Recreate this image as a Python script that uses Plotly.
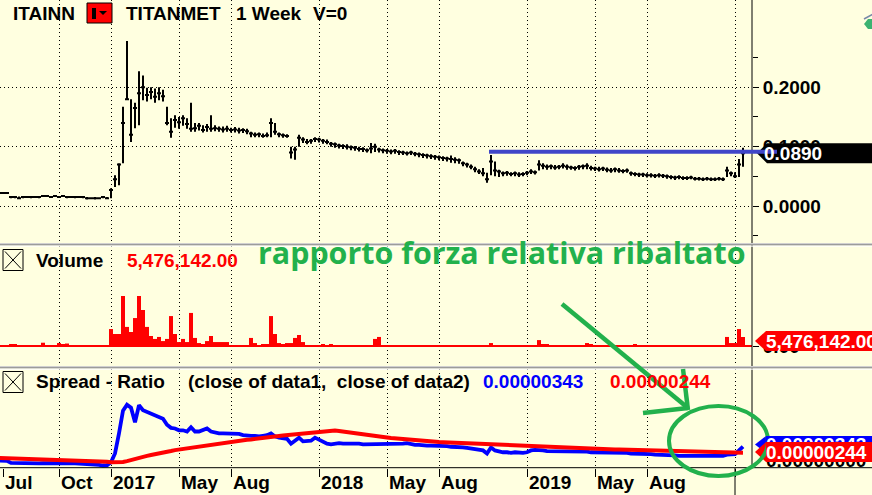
import pandas as pd
import plotly.graph_objects as go

# ---------------- data (weekly bars) ----------------
FIRST_WEEK = "2016-06-24"

PRICE_CLOSE = [
    .022, .022, .022, .015, .015, .013, .015, .015, .015, .015,
    .015, .017, .017, .015, .017, .015, .017, .015, .015, .015,
    .015, .015, .013, .013, .013, .013, .015, .013, .027, .045,
    .070, .140, .180, .120, .165, .190, .200, .187, .192, .184,
    .190, .185, .140, .125, .145, .141, .148, .138, .130, .131,
    .135, .128, .133, .130, .131, .130, .129, .130, .128, .129,
    .127, .128, .126, .122, .120, .121, .118, .119, .140, .125,
    .121, .119, .118, .090, .095, .115, .112, .108, .110, .113,
    .112, .110, .108, .105, .104, .102, .101, .100, .099, .098,
    .096, .096, .094, .097, .100, .095, .094, .093, .092, .093,
    .091, .090, .089, .090, .088, .087, .086, .085, .084, .083,
    .082, .081, .080, .079, .078, .077, .072, .070, .066, .062,
    .058, .055, .045, .075, .060, .058, .055, .056, .054, .055,
    .053, .054, .056, .058, .057, .070, .068, .066, .067, .065,
    .066, .068, .066, .065, .064, .066, .067, .068, .064, .063,
    .062, .063, .061, .060, .062, .060, .059, .060, .055, .054,
    .053, .053, .052, .052, .051, .052, .051, .050, .049, .048,
    .049, .047, .047, .048, .046, .046, .045, .046, .045, .045,
    .046, .045, .060, .055, .050, .070, .089,
]
PRICE_HIGH = [
    .023, .023, .023, .017, .017, .016, .016, .016, .017, .016,
    .016, .018, .018, .017, .018, .017, .018, .016, .016, .017,
    .016, .016, .015, .014, .015, .014, .016, .015, .030, .052,
    .072, .167, .278, .180, .174, .227, .220, .199, .200, .198,
    .200, .196, .167, .148, .153, .150, .153, .148, .174, .140,
    .140, .136, .138, .153, .136, .134, .134, .135, .132, .133,
    .132, .131, .130, .125, .124, .124, .122, .124, .148, .140,
    .124, .122, .121, .100, .100, .120, .116, .113, .113, .116,
    .115, .113, .112, .108, .107, .105, .104, .104, .102, .101,
    .100, .099, .097, .106, .105, .098, .097, .096, .095, .096,
    .094, .093, .092, .093, .091, .090, .089, .088, .087, .086,
    .085, .084, .083, .085, .082, .080, .075, .073, .070, .066,
    .062, .064, .056, .086, .075, .061, .058, .059, .057, .058,
    .057, .057, .059, .062, .060, .077, .072, .070, .070, .069,
    .069, .072, .070, .068, .067, .069, .070, .072, .068, .066,
    .066, .066, .065, .064, .065, .064, .062, .063, .058, .057,
    .056, .056, .055, .055, .054, .055, .054, .053, .052, .051,
    .052, .050, .050, .051, .049, .049, .048, .049, .048, .048,
    .049, .048, .066, .058, .057, .079, .098,
]
PRICE_LOW = [
    .021, .021, .021, .013, .013, .012, .013, .014, .013, .014,
    .013, .015, .015, .014, .015, .014, .015, .013, .014, .013,
    .014, .013, .011, .012, .011, .012, .013, .012, .013, .032,
    .035, .072, .180, .108, .131, .136, .178, .176, .180, .174,
    .178, .176, .136, .115, .132, .130, .135, .130, .125, .125,
    .127, .124, .125, .125, .126, .125, .124, .125, .124, .124,
    .122, .123, .121, .116, .116, .116, .115, .116, .116, .120,
    .116, .115, .115, .080, .078, .100, .106, .104, .105, .108,
    .107, .105, .104, .100, .098, .097, .096, .095, .094, .093,
    .092, .091, .090, .089, .091, .090, .089, .088, .087, .088,
    .086, .086, .085, .086, .084, .082, .081, .080, .079, .078,
    .077, .076, .075, .073, .072, .071, .067, .065, .062, .057,
    .054, .050, .039, .052, .050, .049, .050, .051, .050, .050,
    .049, .050, .052, .054, .053, .060, .062, .061, .062, .061,
    .062, .063, .061, .061, .060, .061, .062, .062, .060, .059,
    .058, .059, .057, .056, .057, .056, .055, .056, .051, .050,
    .049, .049, .048, .048, .047, .048, .047, .046, .045, .044,
    .045, .044, .044, .045, .043, .043, .042, .043, .042, .042,
    .043, .042, .049, .050, .047, .049, .066,
]
VOLUME_M = [
    0.3, 0.3, 0.3, 1.2, 1.2, 0.6, 0.6, 0.6, 0.6, 0.3,
    0.6, 2.0, 0.6, 0.3, 0.3, 1.8, 0.9, 1.5, 0.2, 0.2,
    0.2, 0.6, 0.6, 0.6, 0.6, 0.6, 0.6, 0.6, 10.3, 7.3,
    7.3, 30.4, 11.6, 8.5, 17.0, 30.4, 21.9, 11.6, 6.1, 4.3,
    5.5, 3.0, 4.3, 18.2, 7.3, 2.4, 4.3, 2.4, 20.1, 4.9,
    1.8, 1.2, 3.0, 6.1, 2.4, 2.4, 2.4, 2.4, 0.6, 0.6,
    0.6, 0.6, 0.6, 4.9, 1.8, 0.6, 1.2, 1.2, 18.2, 7.3,
    1.8, 1.2, 1.8, 1.8, 4.9, 6.7, 2.4, 0.6, 0.6, 0.3,
    0.6, 1.2, 0.6, 1.2, 0.6, 0.6, 0.6, 0.6, 0.6, 0.6,
    0.6, 0.6, 0.6, 0.6, 4.3, 5.5, 0.6, 0.6, 0.6, 0.6,
    0.3, 0.6, 0.3, 0.6, 0.6, 0.3, 0.6, 0.3, 0.3, 0.6,
    0.6, 0.6, 0.3, 0.3, 0.6, 0.6, 0.6, 0.6, 0.6, 0.3,
    0.3, 0.3, 0.3, 1.8, 0.6, 0.3, 0.3, 0.3, 0.3, 0.3,
    0.3, 0.3, 0.6, 0.6, 0.6, 3.6, 1.2, 1.2, 0.3, 0.3,
    0.3, 0.3, 0.3, 0.3, 0.3, 0.3, 0.3, 1.8, 1.2, 0.3,
    0.3, 0.3, 0.3, 0.3, 0.3, 0.3, 0.3, 0.3, 0.3, 1.2,
    0.6, 0.3, 0.3, 0.3, 0.3, 0.3, 0.3, 0.3, 0.3, 0.3,
    0.3, 0.3, 0.3, 0.3, 0.3, 0.3, 0.6, 0.6, 0.6, 0.6,
    0.6, 0.6, 5.5, 1.8, 1.8, 10.3, 5.476142,
]
RATIO_E6 = [
    1.15, 1.15, 1.1, 0.75, 0.72, 0.7, 0.7, 0.72, 0.7, 0.7,
    0.68, 0.7, 0.72, 0.7, 0.7, 0.7, 0.68, 0.7, 0.7, 0.68,
    0.66, 0.66, 0.64, 0.62, 0.6, 0.45, 0.33, 0.35, 0.85, 2.3,
    5.6, 9.3, 10.3, 9.8, 7.4, 10.2, 9.4, 9.1, 8.8, 8.5,
    8.3, 8.0, 7.0, 6.5, 6.4, 6.1, 6.1, 5.9, 6.6, 5.9,
    5.9, 6.1, 6.4, 5.9, 5.7, 5.6, 5.6, 5.6, 5.5, 5.5,
    5.5, 5.3, 5.2, 5.2, 5.2, 5.1, 5.2, 5.3, 5.6, 5.1,
    4.9, 4.8, 4.7, 3.9, 4.4, 4.9, 4.3, 4.3, 4.4, 4.9,
    4.6, 4.2, 3.9, 3.8, 3.9, 4.0, 3.9, 3.9, 4.0, 3.9,
    3.9, 3.8, 3.8, 3.8, 3.9, 3.8, 3.8, 3.9, 3.9, 3.9,
    3.8, 3.9, 4.0, 3.8, 3.7, 3.7, 3.6, 3.6, 3.6, 3.6,
    3.6, 3.5, 3.5, 3.4, 3.4, 3.3, 3.3, 3.2, 3.1, 2.9,
    2.8, 2.8, 2.3, 3.3, 2.8, 2.6, 2.5, 2.5, 2.4, 2.5,
    2.4, 2.4, 2.5, 2.8, 2.9, 2.9, 2.8, 2.7, 2.7, 2.7,
    2.6, 2.7, 2.7, 2.6, 2.6, 2.7, 2.6, 2.6, 2.5, 2.5,
    2.5, 2.4, 2.4, 2.5, 2.4, 2.4, 2.4, 2.4, 2.3, 2.3,
    2.2, 2.2, 2.2, 2.2, 2.1, 2.1, 2.1, 2.1, 2.0, 2.0,
    1.9, 1.9, 1.9, 1.8, 1.8, 1.8, 1.8, 1.8, 1.9, 1.8,
    1.8, 1.9, 2.1, 2.1, 2.2, 2.8, 3.43,
]
RATIO_MA_E6 = [
    1.55, 1.53, 1.51, 1.5, 1.49, 1.47, 1.46, 1.45, 1.43, 1.42,
    1.4, 1.38, 1.36, 1.33, 1.31, 1.3, 1.28, 1.25, 1.23, 1.2,
    1.17, 1.15, 1.12, 1.1, 1.07, 1.03, 1.0, 0.95, 0.88, 0.85,
    0.85, 0.9, 1.05, 1.25, 1.45, 1.6, 1.75, 1.9, 2.05, 2.15,
    2.3, 2.4, 2.55, 2.7, 2.85, 2.95, 3.1, 3.2, 3.3, 3.38,
    3.46, 3.55, 3.65, 3.75, 3.85, 3.95, 4.05, 4.15, 4.25, 4.33,
    4.4, 4.47, 4.54, 4.6, 4.7, 4.8, 4.9, 5.0, 5.05, 5.1,
    5.17, 5.23, 5.3, 5.35, 5.42, 5.5, 5.55, 5.6, 5.67, 5.73,
    5.8, 5.9, 6.0, 6.05, 6.05, 6.0, 5.9, 5.8, 5.7, 5.6,
    5.5, 5.38, 5.28, 5.2, 5.12, 5.06, 5.0, 4.93, 4.85, 4.78,
    4.7, 4.63, 4.56, 4.5, 4.44, 4.38, 4.33, 4.28, 4.24, 4.2,
    4.17, 4.13, 4.1, 4.07, 4.04, 4.0, 3.97, 3.94, 3.92, 3.89,
    3.86, 3.84, 3.82, 3.8, 3.77, 3.74, 3.71, 3.68, 3.65, 3.62,
    3.59, 3.56, 3.53, 3.5, 3.46, 3.42, 3.38, 3.34, 3.3, 3.26,
    3.22, 3.2, 3.18, 3.16, 3.15, 3.13, 3.12, 3.11, 3.1, 3.09,
    3.07, 3.05, 3.02, 3.0, 2.97, 2.95, 2.93, 2.91, 2.89, 2.87,
    2.84, 2.81, 2.78, 2.76, 2.74, 2.72, 2.7, 2.68, 2.66, 2.63,
    2.61, 2.59, 2.57, 2.55, 2.53, 2.51, 2.49, 2.47, 2.46, 2.45,
    2.44, 2.43, 2.42, 2.41, 2.41, 2.42, 2.44,
]

TICK_DATES = ["2016-07-01", "2016-10-07", "2017-01-06", "2017-05-05", "2017-08-04",
              "2018-01-05", "2018-05-04", "2018-08-03", "2019-01-04", "2019-05-03",
              "2019-08-02", "2020-01-03"]
TICK_LABELS = ["Jul", "Oct", "2017", "May", "Aug", "2018", "May", "Aug", "2019",
               "May", "Aug", ""]
PRICE_TICKS = [0.0, 0.1, 0.2]
PRICE_TICK_LABELS = ["0.0000", "0.1000", "0.2000"]
PRICE_MINOR_TICKS = [-0.05, 0.05, 0.15, 0.25]
TREND_LEVEL = 0.0915

X_RANGE = ["2016-06-25 18:00", "2020-02-01 18:00"]
PRICE_RANGE = [-0.0623, 0.347]
VOL_RANGE = [-12.16e6, 60.8e6]
RATIO_RANGE = [-0.08e-6, 16.15e-6]

# ---------------- geometry helpers ----------------
W, H = 872, 495
PW, PH = 752, 468            # plot area (left/top margin 0)
BG = "#FFFFE0"
GREEN = "#22B14C"
FONT = "Liberation Sans, Arial, sans-serif"


def X(px):
    return px / PW


def Y(py):
    return (PH - py) / PH


def dom(top, bot):
    return [Y(bot), Y(top)]


def val_py(v, top, bot, rng):
    return top + (rng[1] - v) / (rng[1] - rng[0]) * (bot - top)


def fnt(color="black", size=19, family=FONT):
    return dict(family=family, size=size, color=color, weight="bold")


dates = pd.date_range(FIRST_WEEK, periods=len(PRICE_CLOSE), freq="7D")

fig = go.Figure()
fig.add_trace(go.Ohlc(
    x=dates, open=PRICE_CLOSE, high=PRICE_HIGH, low=PRICE_LOW, close=PRICE_CLOSE,
    xaxis="x", yaxis="y", line=dict(width=2), tickwidth=0.5,
    increasing=dict(line=dict(color="black")), decreasing=dict(line=dict(color="black")),
    hoverinfo="skip", showlegend=False))
fig.add_trace(go.Bar(
    x=dates, y=[v * 1e6 for v in VOLUME_M], xaxis="x2", yaxis="y2",
    marker=dict(color="#FF0000", line=dict(width=0)), width=7 * 24 * 3600 * 1000,
    hoverinfo="skip", showlegend=False))
fig.add_trace(go.Scatter(
    x=dates, y=[v * 1e-6 for v in RATIO_E6], xaxis="x3", yaxis="y3", mode="lines",
    line=dict(color="#0000FF", width=3.8), hoverinfo="skip", showlegend=False))
fig.add_trace(go.Scatter(
    x=dates, y=[v * 1e-6 for v in RATIO_MA_E6], xaxis="x3", yaxis="y3", mode="lines",
    line=dict(color="#FF0000", width=4), hoverinfo="skip", showlegend=False))

GRID = dict(showgrid=True, gridcolor="#000000", gridwidth=1, griddash="1px,3px")
grid_dates = TICK_DATES[1:]
xcommon = dict(type="date", range=X_RANGE, tickmode="array", tickvals=grid_dates,
               showticklabels=False, showline=False, zeroline=False, **GRID)

fig.update_layout(
    width=W, height=H, template="none",
    margin=dict(l=0, r=W - PW, t=0, b=H - PH, pad=0),
    paper_bgcolor=BG, plot_bgcolor=BG, showlegend=False, hovermode=False,
    xaxis=dict(anchor="y", domain=[0, 1], ticks="", rangeslider=dict(visible=False), **xcommon),
    xaxis2=dict(anchor="y2", domain=[0, 1], matches="x", ticks="", **xcommon),
    xaxis3=dict(anchor="y3", domain=[0, 1], matches="x", ticks="outside", ticklen=8,
                tickcolor="black", tickwidth=1,
                minor=dict(tickvals=TICK_DATES[:1], ticks="outside", ticklen=8,
                           tickcolor="black", showgrid=False),
                **xcommon),
    yaxis=dict(domain=dom(0, 243), range=PRICE_RANGE, side="right", anchor="x",
               tickmode="array", tickvals=PRICE_TICKS, ticktext=PRICE_TICK_LABELS,
               ticks="outside", ticklen=6, tickcolor="black", tickfont=fnt(),
               minor=dict(tickvals=PRICE_MINOR_TICKS, ticks="outside", ticklen=5,
                          tickcolor="black", showgrid=False),
               showline=False, zeroline=False, automargin=False, **GRID),
    yaxis2=dict(domain=dom(246, 366), range=VOL_RANGE, side="right", anchor="x2",
                tickmode="array", tickvals=[0], ticktext=["0.00"], ticks="outside",
                ticklen=6, tickcolor="black", tickfont=fnt(), showgrid=False,
                zeroline=True, zerolinecolor="#FF0000", zerolinewidth=1.5,
                showline=False, automargin=False),
    yaxis3=dict(domain=dom(369, 468), range=RATIO_RANGE, side="right", anchor="x3",
                showticklabels=False, ticks="", showgrid=False, zeroline=False,
                showline=False, automargin=False),
)

# ---------------- shapes ----------------
shapes = []


def sline(x0, y0, x1, y1, color="black", width=1):
    shapes.append(dict(type="line", xref="paper", yref="paper", x0=X(x0), y0=Y(y0),
                       x1=X(x1), y1=Y(y1), line=dict(color=color, width=width),
                       layer="above"))


def srect(x0, y0, x1, y1, fill=None, color="black", width=1):
    shapes.append(dict(type="rect", xref="paper", yref="paper", x0=X(x0), y0=Y(y0),
                       x1=X(x1), y1=Y(y1), fillcolor=fill or "rgba(0,0,0,0)",
                       line=dict(color=color, width=width), layer="above"))


def spath(pts, fill, color=None, width=0):
    d = "M " + " L ".join(f"{X(a):.5f},{Y(b):.5f}" for a, b in pts) + " Z"
    shapes.append(dict(type="path", xref="paper", yref="paper", path=d, fillcolor=fill,
                       line=dict(color=color or fill, width=width), layer="above"))


# right spine and bottom axis line
sline(PW, 0, PW, PH, "black", 1)
sline(0, 467.7, W, 467.7, "black", 1)
# panel separators
for y0 in (243, 366):
    sline(0, y0 + 0.5, W, y0 + 0.5, "#D0D0D0", 1)
    sline(0, y0 + 1.8, W, y0 + 1.8, "#9C9C9C", 1.6)
    sline(0, y0 + 3.2, W, y0 + 3.2, "#FFFFFF", 1)

# header widgets
srect(87, 3, 112, 23, fill="#FF0000")
srect(92, 8, 96, 19, fill="black", width=0)
spath([(99, 11), (107, 11), (103, 15)], "black")
for top in (249.5, 371.5):
    srect(3, top, 23, top + 21, fill=None)
    sline(5, top + 2, 21, top + 19)
    sline(21, top + 2, 5, top + 19)

# price last-value label box
yp = val_py(PRICE_CLOSE[-1], 0, 243, PRICE_RANGE)
spath([(757, yp), (767, yp - 10), (W + 2, yp - 10), (W + 2, yp + 10), (767, yp + 10)], "black")
# hand-drawn horizontal level line
shapes.append(dict(type="line", xref="paper", yref="y", x0=X(489), x1=X(777),
                   y0=TREND_LEVEL, y1=TREND_LEVEL, line=dict(color="#4046C8", width=4),
                   layer="above"))
# volume label box
spath([(755, 341), (766, 331), (W + 2, 331), (W + 2, 351), (766, 351)], "#FF0000")
# ratio label pointers
spath([(755, 444.5), (766, 436), (770, 436), (770, 453), (766, 453)], "#0000FF")
spath([(755, 452), (766, 442), (770, 442), (770, 462), (766, 462)], "#FF0000")
# long tick for the unlabeled last month tick
shapes.append(dict(type="line", xref="x3", yref="paper", x0=TICK_DATES[-1], x1=TICK_DATES[-1],
                   y0=Y(468), y1=Y(495), line=dict(color="black", width=1), layer="above"))
# green hand annotations
shapes.append(dict(type="circle", xref="paper", yref="paper", x0=X(669), x1=X(768),
                   y0=Y(476), y1=Y(406), line=dict(color=GREEN, width=4), layer="above"))
sline(562, 304, 688, 408, GREEN, 4.5)
sline(683, 369, 688, 410, GREEN, 4.5)
sline(643, 413, 688, 408, GREEN, 4.5)
# small icon top-right
spath([(864, 24), (868, 19), (873, 19), (873, 29), (868, 29)], "#3CB371")
sline(864, 19, 873, 14, "#7888A8", 1.5)

fig.update_layout(shapes=shapes)

# ---------------- texts ----------------
ann = []


def txt(px, py, s, color="black", size=19, family=FONT, **kw):
    d = dict(xref="paper", yref="paper", x=X(px), y=Y(py), text=s, showarrow=False,
             xanchor="left", yanchor="middle", font=fnt(color, size, family))
    d.update(kw)
    ann.append(d)


txt(11, 13.5, "ITAINN")
txt(124, 13.5, "TITANMET")
txt(234, 13.5, "1 Week")
txt(311, 13.5, "V=0")
txt(34, 260, "Volume")
txt(125, 260, f"{VOLUME_M[-1] * 1e6:,.2f}", "#FF0000")
txt(34, 381, "Spread - Ratio")
txt(186, 381, "(close of data1,\u00a0 close of data2)")
txt(481, 381, f"{RATIO_E6[-1] * 1e-6:.8f}", "#0000FF")
txt(608, 381, f"{RATIO_MA_E6[-1] * 1e-6:.8f}", "#FF0000")
txt(256, 252, "rapporto forza relativa ribaltato", GREEN, 30.4, "Open Sans, sans-serif")

for d, lab in zip(TICK_DATES, TICK_LABELS):
    if lab:
        ann.append(dict(xref="x3", yref="paper", x=d, y=Y(483), text=lab, showarrow=False,
                        xanchor="left", yanchor="middle", font=fnt()))

# right-hand value labels
txt(762, yp, f"{PRICE_CLOSE[-1]:.4f}", "white")
txt(764, 341, f"{VOLUME_M[-1] * 1e6:,.2f}", "white")
txt(764, 460, "0.00000000", "black")
txt(766, 444.5, f"{RATIO_E6[-1] * 1e-6:.8f}", "white", bgcolor="#0000FF",
    width=108, height=17, align="left", borderpad=0, borderwidth=0)
txt(766, 452, f"{RATIO_MA_E6[-1] * 1e-6:.8f}", "white", bgcolor="#FF0000",
    width=108, height=20, align="left", borderpad=0, borderwidth=0)

fig.update_layout(annotations=ann)

fig.write_html("out.html", config={"displayModeBar": False},
               post_script="document.body.style.margin='0';document.body.style.overflow='hidden';")
